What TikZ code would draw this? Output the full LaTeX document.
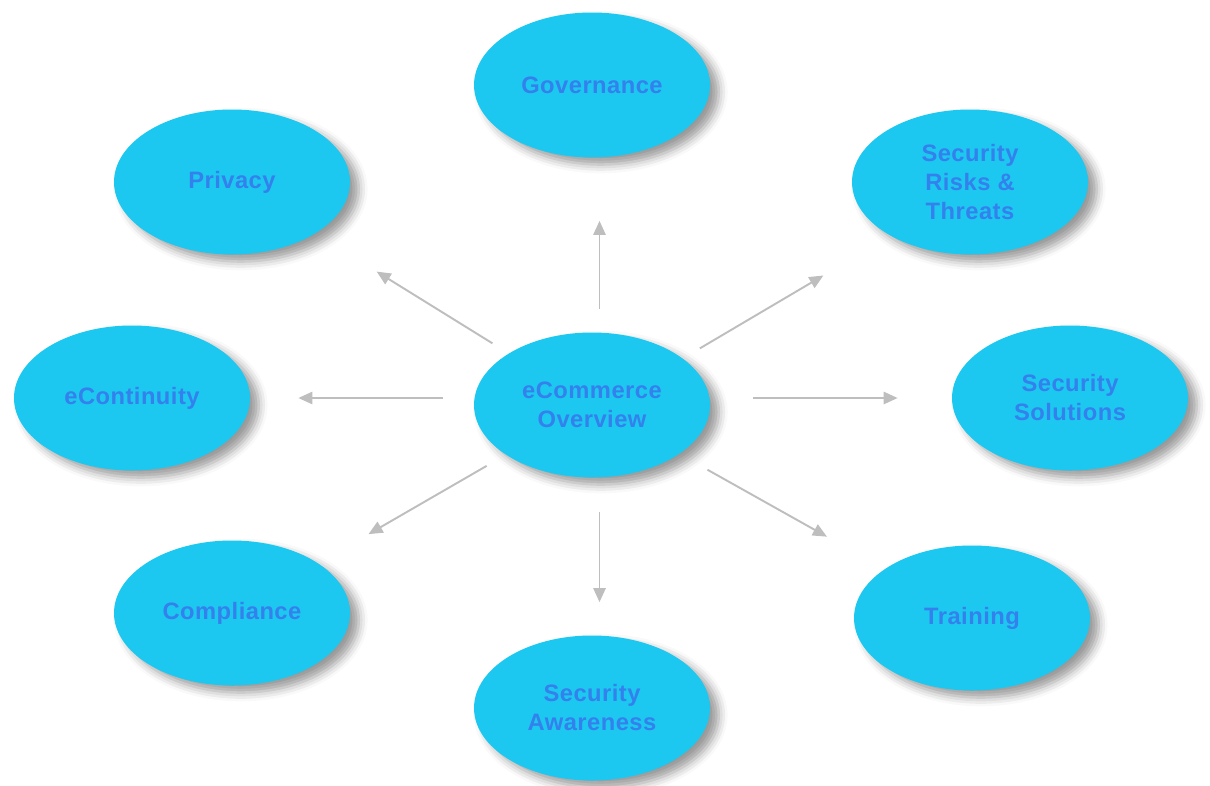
\documentclass[tikz,border=0pt]{standalone}
\usepackage{fontspec}
\newfontfamily\bubblefont[LetterSpace=2]{Liberation Sans}
\usepackage{tikz}
\usetikzlibrary{positioning,arrows.meta,shapes.geometric,shadows.blur}
\definecolor{bubblecyan}{RGB}{28,200,240}
\definecolor{bubbletext}{RGB}{52,128,236}
\definecolor{linkgray}{RGB}{190,190,190}
\tikzset{
  bubble/.style={ellipse, fill=bubblecyan, inner sep=0pt,
    minimum width=4.72cm, minimum height=2.9cm, align=center,
    text=bubbletext, font=\bubblefont\bfseries\fontsize{13.5}{16.5}\selectfont,
    blur shadow={shadow xshift=5pt, shadow yshift=-4pt, shadow blur radius=5pt, shadow opacity=40}},
  link/.style={draw=linkgray, line width=1.1pt, -{Triangle[length=8pt,width=7pt]}}
}
\begin{document}
\begin{tikzpicture}[node distance=2cm, on grid]
            \useasboundingbox (0,0) rectangle (24.2,-15.7);
                \node [bubble] (hub) at (11.84,-8.1) {eCommerce\\Overview};
                \node [bubble, above=6.4cm of hub] (gov) {Governance};
                \node [bubble, above left=4.46cm and 7.2cm of hub] (priv) {Privacy};
                \node [bubble, above right=4.46cm and 7.56cm of hub] (risk) {Security\\Risks \&\\Threats};
                \node [bubble, above left=0.14cm and 9.2cm of hub] (cont) {eContinuity};
                \node [bubble, above right=0.14cm and 9.56cm of hub] (sol) {Security\\Solutions};
                \node [bubble, below left=4.16cm and 7.2cm of hub] (comp) {Compliance};
                \node [bubble, below=6.06cm of hub] (aware) {Security\\Awareness};
                \node [bubble, below right=4.26cm and 7.6cm of hub] (train) {Training};

                \draw[link, transform canvas={xshift=0.15cm}, shorten <=0.46cm, shorten >=1.26cm] (hub) -- (gov);
                \draw[link, shorten <=0.38cm, shorten >=1.44cm] (hub) -- (priv);
                \draw[link, transform canvas={yshift=-0.14cm}, shorten <=0.52cm, shorten >=1.42cm] (hub) -- (risk);
                \draw[link, shorten <=0.62cm, shorten >=0.96cm] (hub.west |- cont.east) -- (cont.east);
                \draw[link, shorten <=0.86cm, shorten >=1.08cm] (hub.east |- sol.west) -- (sol.west);
                \draw[link, shorten <=0.44cm, shorten >=1.16cm] (hub) -- (comp);
                \draw[link, transform canvas={xshift=0.15cm}, shorten <=0.68cm, shorten >=0.66cm] (hub) -- (aware);
                \draw[link, shorten <=0.64cm, shorten >=1.32cm] (hub) -- (train);
        \end{tikzpicture}
\end{document}
